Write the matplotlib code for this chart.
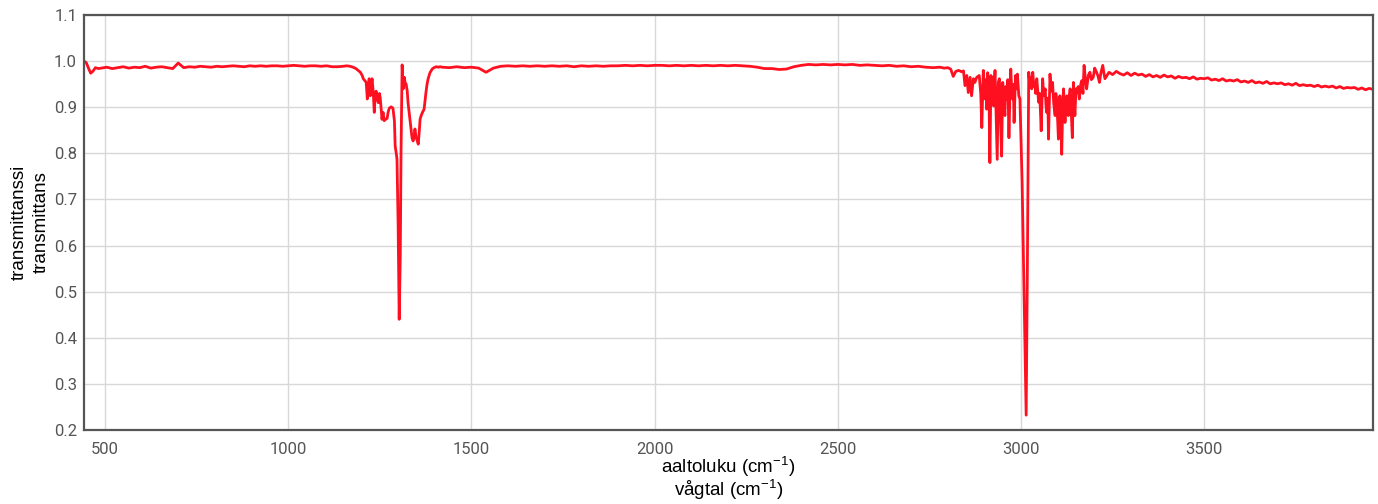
import numpy as np
import matplotlib
matplotlib.use("Agg")
import matplotlib.pyplot as plt

# start of spectrum with the small dip near 460 cm-1
wn_start = [443, 449, 455, 461, 467, 474, 482]
t_start = [1.000, 0.997, 0.985, 0.974, 0.978, 0.986, 0.984]

# flat baseline 490-1150 cm-1 (evenly sampled)
t_base1 = [0.985, 0.987, 0.984, 0.986, 0.988, 0.985, 0.987, 0.986, 0.989, 0.985,
           0.987, 0.988, 0.986, 0.984, 0.996, 0.986, 0.988, 0.987, 0.989, 0.988,
           0.987, 0.989, 0.988, 0.989, 0.990, 0.989, 0.988, 0.990, 0.989, 0.990,
           0.989, 0.990, 0.990, 0.989, 0.990, 0.991, 0.990, 0.989, 0.990, 0.990,
           0.989, 0.990, 0.988, 0.988, 0.989]

# CH deformation band around 1306 cm-1
wn_band1 = [1160, 1169, 1177, 1185, 1191, 1197, 1202, 1205, 1209, 1213, 1216, 1219,
            1221, 1224, 1227, 1229, 1232, 1235, 1237, 1240, 1243, 1246, 1249, 1251,
            1254, 1256, 1259, 1262, 1266, 1270, 1273, 1276, 1281, 1286, 1290, 1292,
            1295, 1297, 1300, 1303, 1306, 1308, 1311, 1314, 1317, 1319, 1322, 1325,
            1327, 1330, 1333, 1338, 1341, 1344, 1346, 1349, 1352, 1355, 1358, 1360,
            1363, 1366, 1371, 1376, 1379, 1382, 1387, 1393, 1398, 1404, 1410, 1415]
t_band1 = [0.990, 0.989, 0.987, 0.984, 0.980, 0.976, 0.969, 0.962, 0.958, 0.954, 0.918, 0.945,
           0.962, 0.925, 0.950, 0.962, 0.935, 0.889, 0.918, 0.935, 0.918, 0.910, 0.930, 0.922,
           0.895, 0.874, 0.889, 0.871, 0.874, 0.876, 0.890, 0.898, 0.901, 0.898, 0.870, 0.816,
           0.800, 0.787, 0.650, 0.440, 0.580, 0.800, 0.992, 0.940, 0.965, 0.954, 0.950, 0.935,
           0.911, 0.890, 0.870, 0.834, 0.827, 0.840, 0.853, 0.835, 0.828, 0.820, 0.850, 0.874,
           0.882, 0.888, 0.896, 0.932, 0.950, 0.962, 0.975, 0.983, 0.986, 0.988, 0.987, 0.988]

# baseline 1420-2760 cm-1, every 20 cm-1
t_base2 = [0.987, 0.986, 0.988, 0.986, 0.987, 0.985, 0.976, 0.985, 0.989, 0.990,
           0.989, 0.990, 0.989, 0.990, 0.989, 0.990, 0.989, 0.990, 0.988, 0.990,
           0.989, 0.990, 0.989, 0.990, 0.990, 0.991, 0.990, 0.991, 0.990, 0.991,
           0.991, 0.990, 0.991, 0.990, 0.991, 0.990, 0.991, 0.990, 0.991, 0.990,
           0.991, 0.990, 0.989, 0.987, 0.984, 0.984, 0.982, 0.983, 0.988, 0.991,
           0.993, 0.992, 0.993, 0.992, 0.993, 0.992, 0.993, 0.991, 0.992, 0.991,
           0.990, 0.991, 0.989, 0.990, 0.988, 0.989, 0.987, 0.986]

# CH stretch band, P / Q / R branches
wn_band2 = [2779, 2790, 2800, 2808, 2815, 2822, 2830, 2838, 2843, 2847, 2852, 2856,
            2861, 2865, 2870, 2874, 2879, 2886, 2890, 2893, 2897, 2900, 2902, 2904,
            2906, 2909, 2911, 2913, 2915, 2918, 2920, 2923, 2925, 2927, 2929, 2932,
            2935, 2938, 2941, 2944, 2947, 2950, 2952, 2956, 2958, 2961, 2964, 2967,
            2970, 2972, 2975, 2977, 2979, 2981, 2985, 2988, 2990, 2994, 2997, 3003,
            3014, 3017, 3021, 3024, 3026, 3029, 3032, 3035, 3038, 3040, 3043, 3048,
            3051, 3055, 3059, 3062, 3066, 3068, 3070, 3073, 3075, 3079, 3082, 3086,
            3089, 3093, 3095, 3097, 3100, 3102, 3106, 3109, 3111, 3114, 3116, 3120,
            3123, 3125, 3129, 3131, 3134, 3137, 3140, 3143, 3145, 3147, 3150, 3152,
            3156, 3159, 3163, 3166, 3169, 3172, 3176, 3179, 3184, 3188, 3192, 3197,
            3201, 3206, 3210, 3214, 3218, 3223, 3226, 3229]
t_band2 = [0.987, 0.985, 0.986, 0.983, 0.967, 0.978, 0.980, 0.977, 0.979, 0.947, 0.969, 0.932,
           0.965, 0.925, 0.962, 0.954, 0.965, 0.969, 0.930, 0.856, 0.980, 0.940, 0.918, 0.960,
           0.896, 0.975, 0.950, 0.900, 0.780, 0.969, 0.940, 0.965, 0.903, 0.950, 0.980, 0.880,
           0.787, 0.955, 0.962, 0.870, 0.794, 0.954, 0.930, 0.882, 0.945, 0.918, 0.960, 0.834,
           0.940, 0.983, 0.930, 0.918, 0.950, 0.867, 0.969, 0.940, 0.972, 0.925, 0.918, 0.736,
           0.232, 0.519, 0.976, 0.950, 0.965, 0.940, 0.976, 0.945, 0.954, 0.930, 0.962, 0.911,
           0.930, 0.849, 0.962, 0.925, 0.940, 0.905, 0.889, 0.920, 0.831, 0.972, 0.935, 0.954,
           0.910, 0.882, 0.930, 0.918, 0.870, 0.831, 0.925, 0.880, 0.798, 0.910, 0.940, 0.867,
           0.910, 0.925, 0.882, 0.920, 0.940, 0.890, 0.834, 0.954, 0.915, 0.882, 0.940, 0.932,
           0.945, 0.918, 0.950, 0.958, 0.930, 0.991, 0.960, 0.940, 0.970, 0.976, 0.960, 0.965,
           0.985, 0.976, 0.968, 0.954, 0.975, 0.991, 0.975, 0.962]

# slowly falling baseline 3240-3960 cm-1, every 10 cm-1
t_base3 = [0.976, 0.971, 0.978, 0.973, 0.970, 0.975, 0.969, 0.974, 0.970, 0.972,
           0.967, 0.971, 0.966, 0.969, 0.965, 0.970, 0.966, 0.968, 0.963, 0.967,
           0.964, 0.965, 0.962, 0.966, 0.961, 0.963, 0.962, 0.964, 0.959, 0.961,
           0.958, 0.962, 0.957, 0.959, 0.957, 0.960, 0.955, 0.957, 0.954, 0.958,
           0.953, 0.955, 0.952, 0.956, 0.951, 0.953, 0.951, 0.953, 0.949, 0.951,
           0.948, 0.952, 0.947, 0.949, 0.947, 0.948, 0.945, 0.948, 0.944, 0.946,
           0.944, 0.946, 0.942, 0.945, 0.941, 0.943, 0.942, 0.943, 0.939, 0.942,
           0.938, 0.941, 0.939]

wn = np.concatenate([wn_start,
                     np.linspace(490, 1150, len(t_base1)),
                     wn_band1,
                     np.linspace(1420, 2760, len(t_base2)),
                     wn_band2,
                     np.linspace(3240, 3960, len(t_base3))])
t = np.concatenate([t_start, t_base1, t_band1, t_base2, t_band2, t_base3])

x_ticks = [500, 1000, 1500, 2000, 2500, 3000, 3500]
y_ticks = [0.2, 0.3, 0.4, 0.5, 0.6, 0.7, 0.8, 0.9, 1.0, 1.1]

plt.rcParams['font.family'] = ['Liberation Sans', 'DejaVu Sans']
plt.rcParams['mathtext.fontset'] = 'custom'
plt.rcParams['mathtext.rm'] = 'Liberation Sans'
plt.rcParams['mathtext.it'] = 'Liberation Sans'

fig = plt.figure(figsize=(13.78, 5.04), dpi=100)
ax = fig.add_axes([0.061, 0.147, 0.9355, 0.823])

ax.plot(wn, t, color='#ff1020', linewidth=2.0, solid_joinstyle='round')

ax.set_xlim(443, 3961)
ax.set_ylim(0.2, 1.1)
ax.set_xticks(x_ticks)
ax.set_yticks(y_ticks)
ax.set_yticklabels([f"{v:.1f}" for v in y_ticks])
ax.grid(True, color='#d8d8d8', linewidth=1.0)
ax.set_axisbelow(True)
ax.tick_params(length=0, labelsize=12, labelcolor='#555555')
ax.tick_params(axis='y', pad=5)
ax.tick_params(axis='x', pad=9)
for lab in ax.get_xticklabels() + ax.get_yticklabels():
    lab.set_family(['Roboto', 'DejaVu Sans'])
for s in ax.spines.values():
    s.set_color('#555555')
    s.set_linewidth(1.6)

# axis titles, two languages on two lines
xc = 0.061 + 0.9355 / 2
fig.text(xc, 1 - 467 / 504, "aaltoluku (cm$^{-1}$)", fontsize=13.5,
         ha='center', va='center')
fig.text(xc, 1 - 490 / 504, "vågtal (cm$^{-1}$)", fontsize=13.5,
         ha='center', va='center')
yc = 1 - 222 / 504
fig.text(19 / 1378, yc, "transmittanssi", fontsize=13.5, rotation=90,
         ha='center', va='center')
fig.text(41 / 1378, yc, "transmittans", fontsize=13.5, rotation=90,
         ha='center', va='center')

fig.savefig("out.png", dpi=100)
